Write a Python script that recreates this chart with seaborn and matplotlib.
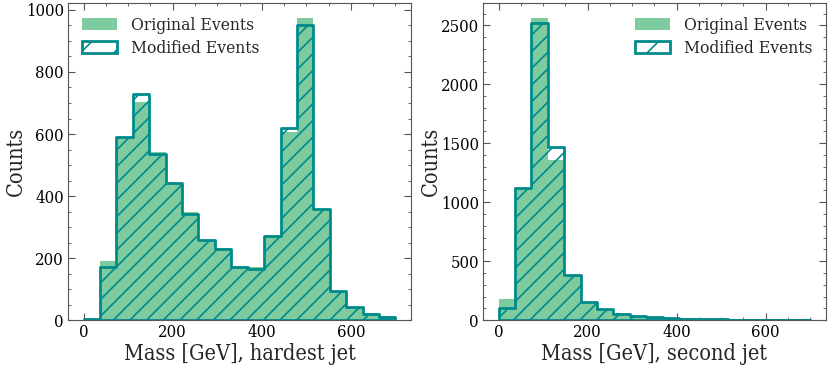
import numpy as np
import pandas as pd
import matplotlib
matplotlib.use("Agg")
import matplotlib.pyplot as plt
import seaborn as sns
from matplotlib.patches import Patch
from matplotlib.ticker import AutoMinorLocator

# --- Data (counts per bin, 19 bins from 0 to 700 GeV) ---
BIN_EDGES = np.linspace(0, 700, 20).tolist()

hardest_original = [0, 189, 591, 703, 543, 441, 348, 257, 232, 174,
                    171, 273, 607, 974, 354, 95, 43, 23, 13]
hardest_modified = [2, 171, 591, 728, 537, 441, 343, 257, 230, 172,
                    166, 272, 619, 952, 358, 93, 41, 19, 11]

second_original = [182, 1119, 2562, 1358, 386, 156, 94, 57, 37, 26,
                   20, 14, 11, 8, 6, 5, 4, 3, 2]
second_modified = [102, 1119, 2517, 1472, 381, 153, 91, 51, 34, 23,
                   17, 11, 8, 6, 5, 4, 3, 2, 2]

x_labels = ["Mass [GeV], hardest jet", "Mass [GeV], second jet"]

FILL_COLOR = "#7dcb9f"
EDGE_COLOR = "#008b8b"

# --- Style ---
sns.set_style("ticks")
plt.rcParams["font.family"] = ["DejaVu Serif"]
plt.rcParams["font.stretch"] = "condensed"
plt.rcParams["hatch.linewidth"] = 1.2
plt.rcParams["axes.edgecolor"] = "#555555"
plt.rcParams["xtick.color"] = "#555555"
plt.rcParams["ytick.color"] = "#555555"
plt.rcParams["xtick.labelcolor"] = "black"
plt.rcParams["ytick.labelcolor"] = "black"

edges = np.array(BIN_EDGES)
centers = (edges[:-1] + edges[1:]) / 2

fig, axes = plt.subplots(1, 2, figsize=(8.3, 3.65), dpi=100)
fig.subplots_adjust(left=0.082, right=0.995, top=0.992, bottom=0.123, wspace=0.21)

panels = [
    (hardest_original, hardest_modified, "upper left"),
    (second_original, second_modified, "upper right"),
]

for ax, (orig, mod, loc), xlabel in zip(axes, panels, x_labels):
    df = pd.DataFrame({"mass": centers, "orig": orig, "mod": mod})

    # original events: plain filled bars
    sns.histplot(data=df, x="mass", weights="orig", bins=BIN_EDGES,
                 element="bars", fill=True, color=FILL_COLOR, alpha=1.0,
                 linewidth=0, ax=ax)
    # modified events: hatched step outline on top
    n_before = len(ax.collections)
    sns.histplot(data=df, x="mass", weights="mod", bins=BIN_EDGES,
                 element="step", fill=True, color=EDGE_COLOR, ax=ax)
    for coll in ax.collections[n_before:]:
        coll.set_facecolor("none")
        coll.set_edgecolor(EDGE_COLOR)
        coll.set_hatch("//")
        coll.set_linewidth(2.0)

    ax.set_xlim(-35, 735)
    ax.set_ylim(0, max(max(orig), max(mod)) * 1.05)
    ax.set_xlabel(xlabel, fontsize=15.5, labelpad=1)
    ax.set_ylabel("Counts", fontsize=15.5, labelpad=-1)
    ax.xaxis.set_minor_locator(AutoMinorLocator())
    ax.yaxis.set_minor_locator(AutoMinorLocator())
    ax.tick_params(which="both", direction="in", top=True, right=True, labelsize=12)
    ax.tick_params(which="major", length=5, pad=3)
    ax.tick_params(which="minor", length=2.5)

    handles = [
        Patch(facecolor=FILL_COLOR, edgecolor="none", label="Original Events"),
        Patch(facecolor="none", edgecolor=EDGE_COLOR, hatch="/", linewidth=2,
              label="Modified Events"),
    ]
    ax.legend(handles=handles, loc=loc, frameon=False, fontsize=12.5,
              handlelength=2.0, borderaxespad=0.4, labelspacing=0.35)

fig.savefig("out.png", dpi=100)
